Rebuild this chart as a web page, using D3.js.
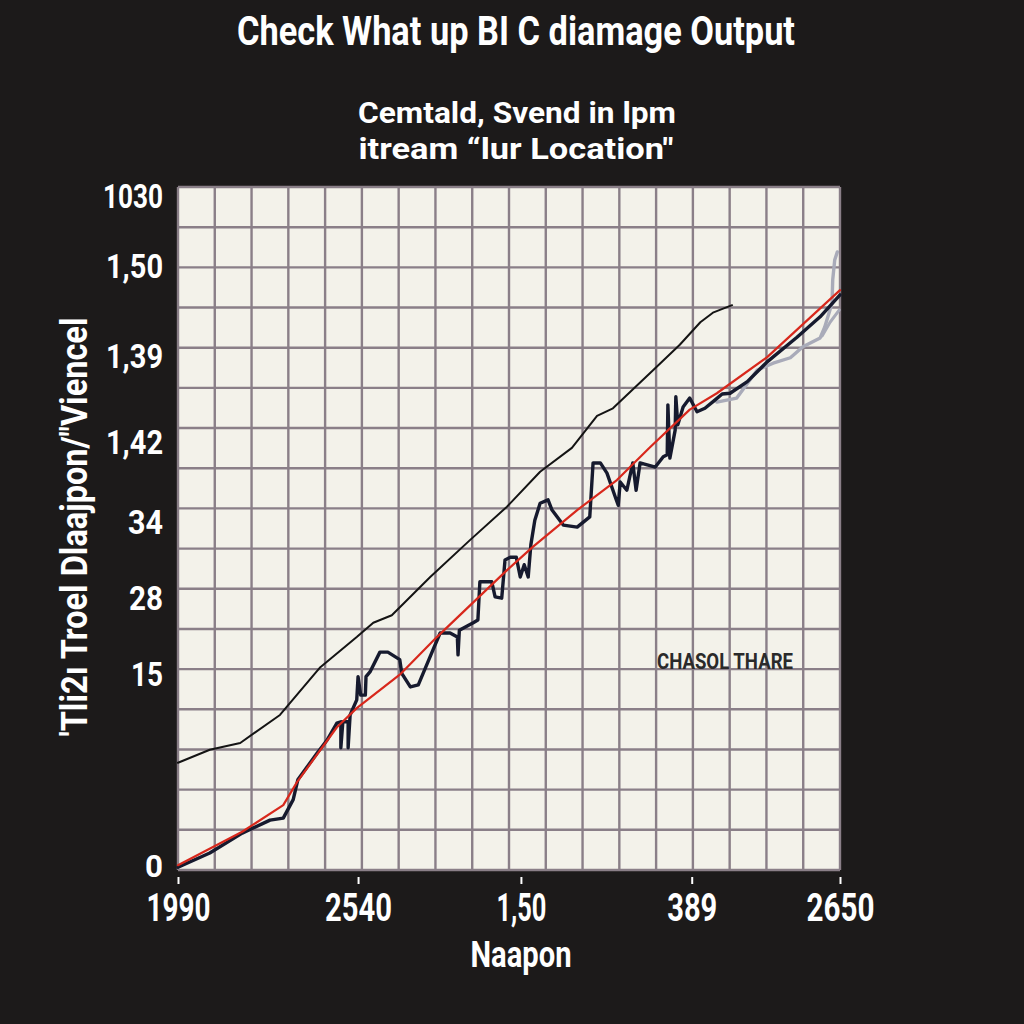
<!DOCTYPE html>
<html><head><meta charset="utf-8">
<script src="https://cdn.jsdelivr.net/npm/d3@7"></script>
<style>html,body{margin:0;padding:0;background:#1c1a1a;} svg{display:block}</style>
</head><body>
<script>
// ---- text content ----
const titleText = "Check What up BI C diamage Output";
const subtitleLines = ["Cemtald, Svend in lpm", "itream \u201clur Location\""];
const xTitle = "Naapon";
const yTitle = "'Tli2\u0131 Troel Dlaajpon/\"Viencel";
const noteText = "CHASOL THARE";

// ---- ticks ----
const yTickValues = [98.8, 88.6, 75.3, 62.8, 51.1, 40.0, 28.8, 0];
const yTickLabels = ["1030", "1,50", "1,39", "1,42", "34", "28", "15", "0"];
const xTickValues = [0, 27.2, 51.8, 77.6, 100];
const xTickLabels = ["1990", "2540", "1,50", "389", "2650"];

// ---- series (x, y in 0..100 chart units) ----
const upperSeries = [[0,15.7],[4.8,17.6],[9.4,18.6],[15.4,22.7],[21.5,29.7],[27.0,34.1],[29.5,36.2],[32.3,37.3],[38.1,42.9],[44.1,48.3],[49.7,53.2],[54.7,58.3],[59.5,61.8],[63.3,66.5],[65.7,67.6],[71.8,73.2],[75.8,76.9],[78.9,80.2],[80.8,81.6],[83.7,82.7]];
const navySeries = [[0,0.4],[4.8,2.5],[9.7,5.4],[13.9,7.3],[15.9,7.6],[17.4,10.3],[18.1,13.2],[21.0,17.1],[22.5,19.0],[24.0,21.5],[24.6,21.7],[24.6,17.9],[24.9,21.7],[25.7,21.7],[25.7,17.9],[26.0,22.7],[27.0,24.9],[27.2,28.3],[27.6,25.6],[28.3,25.6],[28.4,28.3],[29.0,29.0],[30.5,31.9],[31.7,31.9],[33.5,30.8],[33.8,28.8],[35.1,26.8],[36.3,27.1],[38.5,32.2],[39.6,34.7],[41.1,34.7],[42.2,34.1],[42.3,31.5],[42.5,35.1],[44.6,36.2],[45.3,36.6],[45.6,42.2],[47.4,42.2],[47.9,40.0],[48.9,39.8],[49.4,45.4],[50.2,45.8],[51.1,45.8],[51.7,42.9],[52.3,44.7],[52.9,42.9],[53.3,47.6],[53.9,51.2],[54.7,53.7],[55.9,54.2],[56.5,52.7],[58.2,50.5],[60.3,50.2],[62.2,51.7],[62.7,59.6],[63.8,59.6],[64.8,58.1],[66.2,54.2],[66.5,53.4],[66.8,56.8],[67.8,55.6],[68.7,59.6],[69.2,55.6],[69.8,59.6],[72.1,59.0],[73.3,60.5],[73.9,60.8],[74.0,68.1],[74.3,60.3],[75.1,64.4],[75.2,69.3],[75.5,65.2],[76.3,67.8],[77.3,69.1],[78.4,67.1],[79.6,67.6],[81.1,68.8],[82.2,69.7],[83.4,69.8],[86.0,71.5],[89.0,74.4],[93.5,78.0],[97.0,81.0],[100,84.2]];
const redSeries = [[0,0.7],[9.7,5.6],[15.9,9.5],[18.0,12.9],[24.0,20.9],[27.0,23.7],[33.5,28.6],[39.1,34.1],[49.7,43.9],[53.6,47.3],[60.3,52.7],[66.3,57.1],[71.3,61.9],[77.3,67.4],[81.4,69.8],[89.0,75.1],[100,84.9]];
const graySeries = [[81.4,68.5],[84.4,69.1],[87.5,73.2],[89.9,74.2],[92.5,75.0],[94.4,76.6],[97.0,77.9],[97.7,79.5],[98.8,83.0],[98.9,86.4],[99.2,89.3],[99.6,90.5]];
const graySeries2 = [[97.3,78.2],[98.5,80.2],[99.9,82.0]];

// ---- layout ----
const W = 1024, H = 1024;
const m = {l:178, r:840, t:187, b:870};
const FONT = "Roboto, 'Liberation Sans', Arial, sans-serif";

const svg = d3.select("body").append("svg").attr("width", W).attr("height", H);
svg.append("rect").attr("width", W).attr("height", H).attr("fill", "#1c1a1a");

const x = d3.scaleLinear().domain([0,100]).range([m.l, m.r]);
const y = d3.scaleLinear().domain([0,100]).range([m.b, m.t]);

svg.append("rect").attr("x", m.l).attr("y", m.t).attr("width", m.r - m.l).attr("height", m.b - m.t).attr("fill", "#f3f2ea");

// grid
const gridX = d3.range(19).map(i => i * 100 / 18);
const gridY = d3.range(18).map(i => i * 100 / 17);
const grid = svg.append("g").attr("stroke", "#8a7f88").attr("stroke-width", 2.4);
grid.selectAll(".gx").data(gridX).join("line").attr("class","gx")
  .attr("x1", d => x(d)).attr("x2", d => x(d)).attr("y1", m.t).attr("y2", m.b);
grid.selectAll(".gy").data(gridY).join("line").attr("class","gy")
  .attr("y1", d => y(d)).attr("y2", d => y(d)).attr("x1", m.l).attr("x2", m.r);

// lines
const line = d3.line().x(d => x(d[0])).y(d => y(d[1]));
const plotG = svg.append("g").attr("fill", "none").attr("stroke-linejoin", "round").attr("stroke-linecap", "round");
plotG.append("path").datum(graySeries).attr("d", line).attr("stroke", "#a9abb9").attr("stroke-width", 3.4);
plotG.append("path").datum(graySeries2).attr("d", line).attr("stroke", "#a9abb9").attr("stroke-width", 3);
plotG.append("path").datum(upperSeries).attr("d", line).attr("stroke", "#141414").attr("stroke-width", 2);
plotG.append("path").datum(navySeries).attr("d", line).attr("stroke", "#161a2e").attr("stroke-width", 3.4);
plotG.append("path").datum(redSeries).attr("d", line).attr("stroke", "#d8281c").attr("stroke-width", 2.2);

// text helper
function label(g, s, o) {
  const t = g.append("text").text(s)
    .attr("x", o.x).attr("y", o.y)
    .attr("font-family", FONT).attr("font-weight", 700)
    .attr("font-size", o.size).attr("fill", o.fill || "#fff")
    .attr("text-anchor", o.anchor || "middle");
  if (o.w) t.attr("textLength", o.w).attr("lengthAdjust", "spacingAndGlyphs");
  if (o.transform) t.attr("transform", o.transform);
  return t;
}

// titles
label(svg, titleText, {x:516, y:45, size:41, w:558});
label(svg, subtitleLines[0], {x:517, y:123, size:29, w:318});
label(svg, subtitleLines[1], {x:516, y:159, size:29, w:315});

// y axis
const yWidths = [60, 57, 57, 57, 35, 34, 32, 18];
const yAxis = svg.append("g").attr("transform", "translate(163,0)")
  .call(d3.axisLeft(y).tickValues(yTickValues).tickFormat((d,i) => yTickLabels[i]).tickSize(0).tickPadding(0));
yAxis.select(".domain").remove();
yAxis.selectAll("text")
  .attr("font-family", FONT).attr("font-weight", 700).attr("font-size", (d,i) => i === 7 ? 32 : 34).attr("fill", "#fff")
  .attr("dy", (d,i) => i === 7 ? "0.2em" : "0.36em")
  .attr("textLength", (d,i) => yWidths[i]).attr("lengthAdjust", "spacingAndGlyphs");

// x axis
const xWidths = [64, 67, 50, 50, 68];
const xAxis = svg.append("g").attr("transform", `translate(0,${m.b + 7})`)
  .call(d3.axisBottom(x).tickValues(xTickValues).tickFormat((d,i) => xTickLabels[i]).tickSize(7).tickPadding(10));
xAxis.select(".domain").remove();
xAxis.selectAll("line").attr("stroke", "#fff").attr("stroke-width", 2);
xAxis.selectAll("text")
  .attr("font-family", FONT).attr("font-weight", 700).attr("font-size", 38).attr("fill", "#fff")
  .attr("textLength", (d,i) => xWidths[i]).attr("lengthAdjust", "spacingAndGlyphs");

// axis titles
label(svg, xTitle, {x:521, y:967, size:37, w:101});
label(svg, yTitle, {x:0, y:0, size:36, w:419, transform:"translate(87,527) rotate(-90)"});

// annotation
label(svg, noteText, {x:657, y:669, size:22, w:136, anchor:"start", fill:"#2a2a2a"});
</script>
</body></html>
